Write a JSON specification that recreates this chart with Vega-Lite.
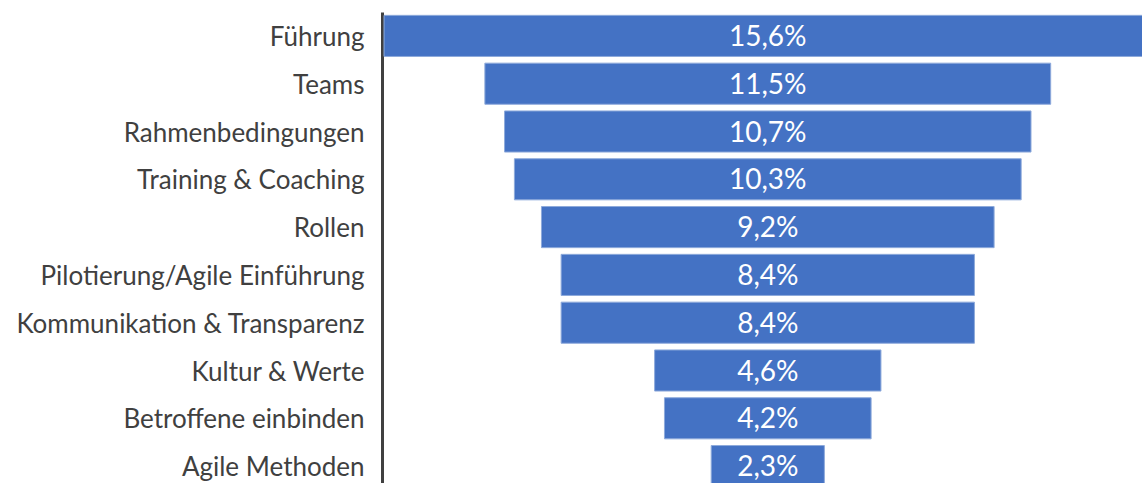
{
  "$schema": "https://vega.github.io/schema/vega-lite/v6.json",
  "width": 760,
  "height": 472,
  "autosize": {"type": "none"},
  "padding": {"left": 382, "top": 11, "right": 0, "bottom": 0},
  "background": "white",
  "config": {"view": {"stroke": null}},
  "data": {
    "values": [
      {"kategorie": "Führung", "anteil": 15.6, "label": "15,6%"},
      {"kategorie": "Teams", "anteil": 11.5, "label": "11,5%"},
      {"kategorie": "Rahmenbedingungen", "anteil": 10.7, "label": "10,7%"},
      {"kategorie": "Training & Coaching", "anteil": 10.3, "label": "10,3%"},
      {"kategorie": "Rollen", "anteil": 9.2, "label": "9,2%"},
      {"kategorie": "Pilotierung/Agile Einführung", "anteil": 8.4, "label": "8,4%"},
      {"kategorie": "Kommunikation & Transparenz", "anteil": 8.4, "label": "8,4%"},
      {"kategorie": "Kultur & Werte", "anteil": 4.6, "label": "4,6%"},
      {"kategorie": "Betroffene einbinden", "anteil": 4.2, "label": "4,2%"},
      {"kategorie": "Agile Methoden", "anteil": 2.3, "label": "2,3%"}
    ]
  },
  "encoding": {
    "y": {
      "field": "kategorie",
      "type": "nominal",
      "sort": null,
      "scale": {"range": [1, 479], "paddingInner": 0.14, "paddingOuter": 0.07},
      "axis": {
        "title": null,
        "ticks": false,
        "domainColor": "#404040",
        "domainWidth": 3,
        "labelFont": "Lato",
        "labelFontSize": 26,
        "labelColor": "#404040",
        "labelPadding": 18,
        "labelOffset": 2,
        "labelLimit": 500
      }
    }
  },
  "layer": [
    {
      "mark": {"type": "bar", "color": "#4472C4", "stroke": "#8eaadb", "strokeWidth": 1, "clip": true},
      "encoding": {
        "x": {
          "field": "anteil",
          "type": "quantitative",
          "stack": "center",
          "scale": {"domain": [-0.041, 15.406], "nice": false, "zero": false},
          "axis": null
        }
      }
    },
    {
      "mark": {"type": "text", "color": "white", "font": "Lato", "fontSize": 28, "baseline": "middle", "align": "center", "dy": 2},
      "encoding": {
        "x": {"datum": 7.8, "type": "quantitative"},
        "text": {"field": "label"}
      }
    }
  ]
}
